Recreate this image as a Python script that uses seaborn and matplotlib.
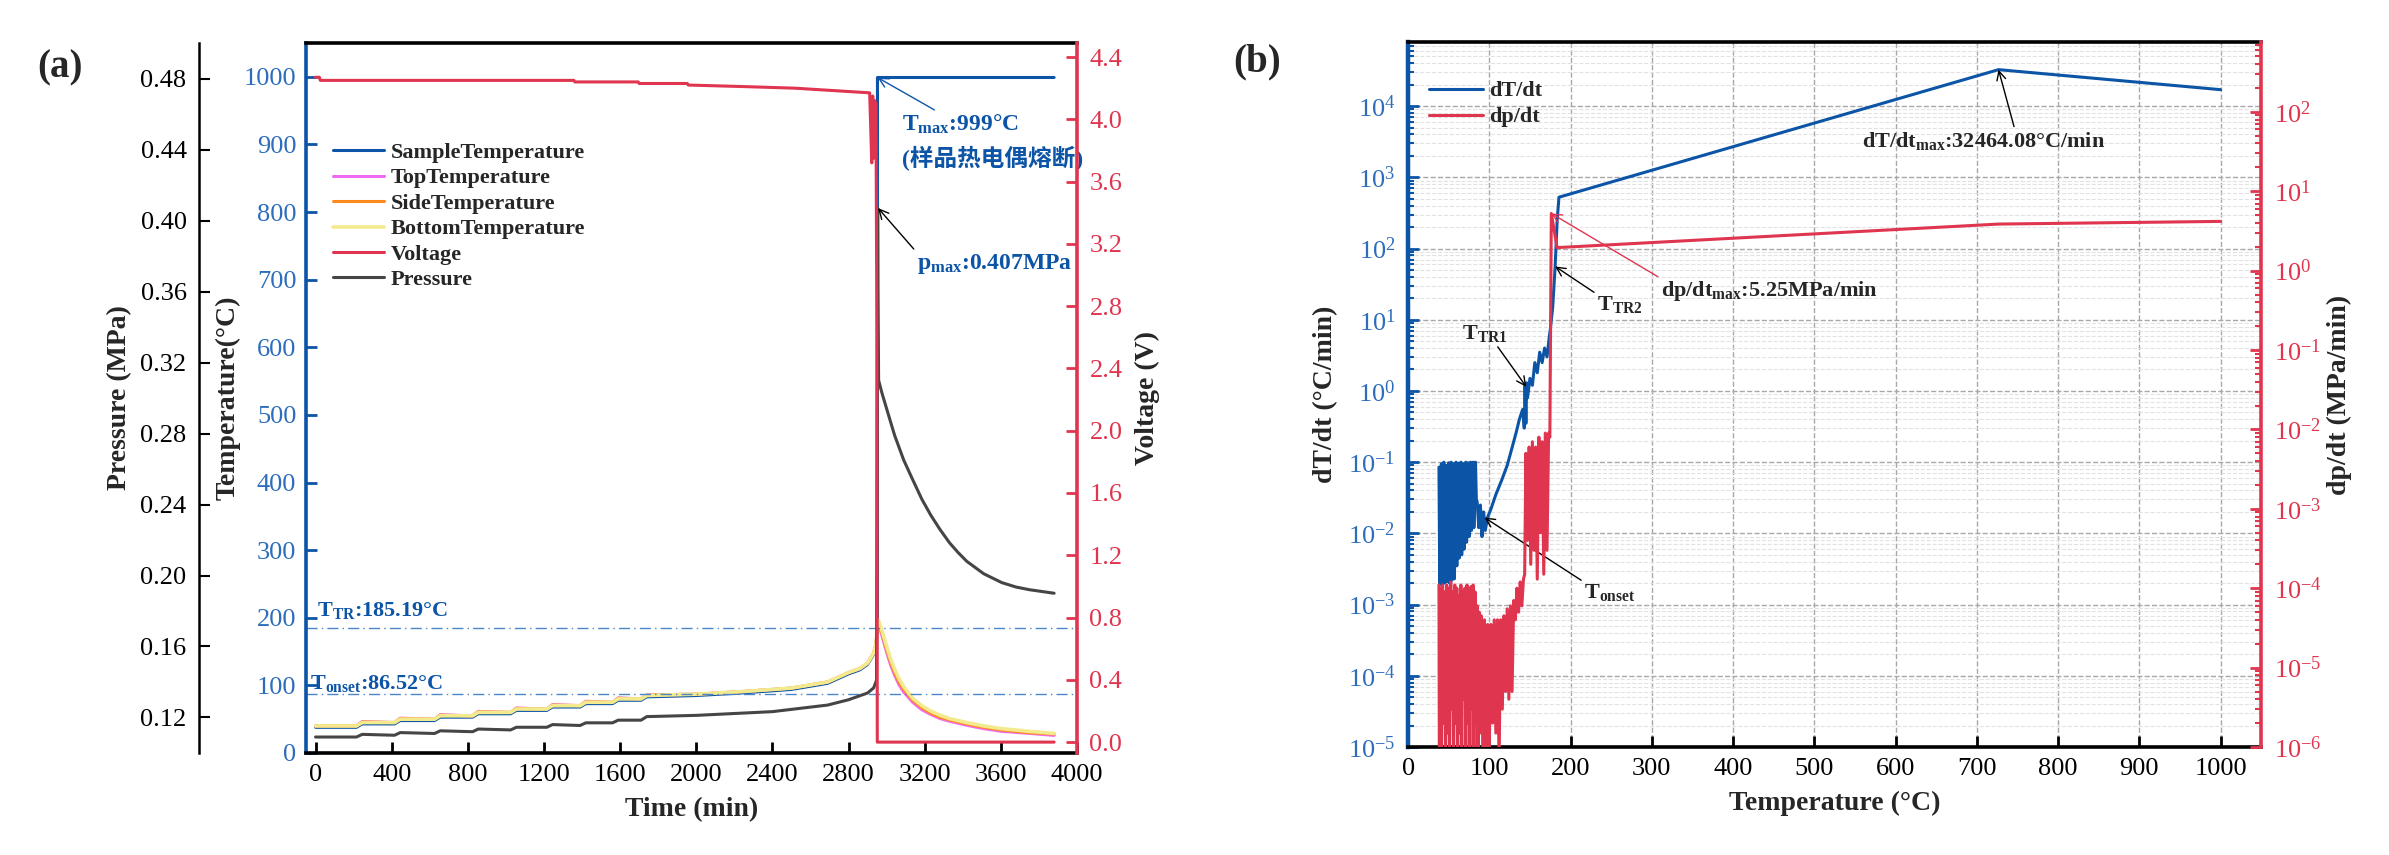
import matplotlib
matplotlib.use("Agg")
import matplotlib.pyplot as plt
from matplotlib.ticker import FormatStrFormatter, LogLocator, NullFormatter
import seaborn as sns

# ============================
# Panel (a): time series
# ============================
# heat-wait-seek part (min), shared by the thermocouples
time_pre = [0, 215, 245, 415, 445, 625, 655, 825, 855, 1025, 1055, 1215, 1245,
            1390, 1420, 1560, 1590, 1710, 1740, 2000, 2250, 2500, 2690, 2800,
            2860, 2900, 2932, 2945]
sample_pre = [38, 38, 43, 43, 48, 48, 53, 53, 58, 58, 63, 63, 68,
              68, 73, 73, 78, 78, 83, 85, 89, 94, 103, 117,
              123, 131, 146, 160]
top_pre = [40, 40, 46.5, 45, 51.5, 50, 56.5, 55, 61.5, 60, 66.5, 65, 71.5,
           70, 76.5, 75, 81.5, 80, 86, 87, 91, 96, 105, 119,
           125, 133, 148, 162]
side_pre = [40, 40, 46, 45, 51, 50, 56, 55, 61, 60, 66, 65, 71,
            70, 76, 75, 81, 80, 85.5, 87, 91, 96, 105, 119,
            125, 133, 148, 162]
bottom_pre = [40, 40, 45, 45, 50, 50, 55, 55, 60, 60, 65, 65, 70,
              70, 75, 75, 80, 80, 85, 87, 91, 96, 105, 119,
              125, 133, 148, 162]

# after thermal runaway
time_post = [2952, 2960, 2968, 2985, 3000, 3020, 3042, 3065, 3090, 3137,
             3185, 3232, 3280, 3330, 3421, 3510, 3605, 3750, 3880]
top_post = [192, 188, 181, 164, 149, 131, 115, 101, 90, 75,
            64, 57, 51, 47, 41, 36, 32, 29, 26]
side_post = [195, 191, 184, 168, 153, 135, 119, 105, 94, 78,
             67, 59, 53, 49, 43, 38, 34, 30, 28]
bottom_post = [198, 194, 188, 172, 158, 140, 124, 110, 98, 81,
               70, 62, 56, 51, 45, 40, 36, 32, 29]
sample_jump_time = [2952, 2952, 3880]
sample_jump = [185, 999, 999]

p_time = [0, 215, 245, 415, 445, 625, 655, 825, 855, 1025, 1055, 1215, 1245, 1390,
          1420, 1560, 1590, 1710, 1740, 2000, 2400, 2690, 2800, 2900, 2932, 2947,
          2953, 2955, 2958, 2975, 3000, 3042, 3090, 3137, 3185, 3232, 3280, 3330,
          3375, 3421, 3510, 3605, 3680, 3750, 3815, 3880]
pressure = [0.109, 0.109, 0.1105, 0.110, 0.1115, 0.111, 0.1125, 0.112, 0.1135, 0.113,
            0.1145, 0.1145, 0.116, 0.1155, 0.117, 0.117, 0.1185, 0.1185, 0.1205,
            0.1212, 0.1233, 0.127, 0.130, 0.1338, 0.1367, 0.141,
            0.407, 0.36, 0.31, 0.303, 0.294, 0.279, 0.265, 0.254, 0.243, 0.234,
            0.226, 0.2185, 0.213, 0.208, 0.201, 0.196, 0.1935, 0.192, 0.191, 0.190]

v_time = [0, 20, 25, 1357, 1362, 1695, 1700, 1953, 1958, 2253, 2516, 2911, 2922,
          2927, 2932, 2937, 2944, 2949, 2951, 3880]
voltage = [4.27, 4.27, 4.25, 4.25, 4.24, 4.24, 4.23, 4.23, 4.22, 4.21, 4.20, 4.17,
           3.72, 4.15, 3.75, 4.12, 4.10, 2.6, 0.0, 0.0]

T_TR = 185.19
T_ONSET = 86.52

time_ticks = [0, 400, 800, 1200, 1600, 2000, 2400, 2800, 3200, 3600, 4000]
temp_ticks = [0, 100, 200, 300, 400, 500, 600, 700, 800, 900, 1000]
press_ticks = [0.12, 0.16, 0.20, 0.24, 0.28, 0.32, 0.36, 0.40, 0.44, 0.48]
volt_ticks = [0.0, 0.4, 0.8, 1.2, 1.6, 2.0, 2.4, 2.8, 3.2, 3.6, 4.0, 4.4]

# ============================
# Panel (b): rates vs temperature
# ============================
dTdt_temp = [38, 39, 41, 42, 44, 45, 47, 48, 50, 51, 53, 54, 56, 57, 59, 60,
             62, 63, 65, 66, 68, 69, 71, 72, 74, 75, 77, 78, 80, 81, 83, 84,
             85, 87, 89, 91, 93, 95, 98, 102, 108, 115, 122, 128, 133, 137, 141,
             143, 144, 145, 146, 147, 150, 153, 156, 159, 162, 165, 168, 171, 174,
             175, 178, 181, 183.5, 185.7, 726.7, 1000]
dTdt = [0.085, 0.0019, 0.095, 0.0019, 0.1, 0.002, 0.09, 0.0021, 0.098, 0.002,
        0.1, 0.0022, 0.095, 0.0023, 0.1, 0.0035, 0.097, 0.0045, 0.1, 0.005,
        0.095, 0.006, 0.1, 0.0075, 0.098, 0.009, 0.1, 0.011, 0.1, 0.012, 0.1, 0.03,
        0.028, 0.012, 0.025, 0.009, 0.02, 0.011, 0.017, 0.022, 0.035, 0.055, 0.09,
        0.16, 0.26, 0.4, 0.55, 0.3, 1.2, 0.35, 1.3, 0.8, 1.5, 1.2, 2.5, 1.8, 3.5,
        2.5, 4.0, 3.0, 6.0, 7.2, 15, 56, 250, 525, 32464.08, 17000]

dpdt_temp = [38, 38.5, 40, 41, 42.5, 43.5, 45, 46, 47.5, 48.5, 50, 51, 52.5, 53.5,
             55, 56, 57.5, 58.5, 60, 61, 62.5, 63.5, 65, 66, 67.5, 68.5, 70, 71,
             72.5, 73.5, 75, 76, 77.5, 78.5, 80, 81, 82.5, 83.5, 85, 86, 87.5, 88.5,
             90, 92, 94, 96, 98, 100, 102, 104, 106, 108, 110, 112, 114, 116, 118,
             120, 122, 124, 126, 128, 130,
             132, 134, 136, 138, 140, 142, 143.5,
             145, 147, 149, 151, 153, 155, 157, 159, 161, 163, 165, 167, 169, 171,
             173, 174.5, 176.3, 183.4, 727, 1000]
dpdt = [1.1e-4, 5e-7, 1.0e-4, 8e-7, 1.1e-4, 2e-6, 9e-5, 5e-7, 1.1e-4, 1.5e-6,
        1.0e-4, 6e-7, 1.2e-4, 3e-6, 9e-5, 5e-7, 1.1e-4, 2e-6, 1.0e-4, 6e-7,
        8e-5, 1.5e-6, 1.1e-4, 5e-7, 9e-5, 4e-6, 1.0e-4, 8e-7, 1.1e-4, 2e-6,
        9e-5, 6e-7, 1.05e-4, 3e-6, 1.1e-4, 7e-7, 9e-5, 2e-6, 6e-5, 5e-7, 5e-5, 1.5e-6,
        4.5e-5, 8e-7, 4e-5, 6e-7, 3.5e-5, 1e-6, 3.5e-5, 2e-6, 4e-5, 1.5e-6, 4e-5,
        6e-7, 4e-5, 3e-6, 4.5e-5, 5e-6, 5.5e-5, 4e-6, 6e-5, 5e-6, 7e-5,
        4e-5, 1e-4, 5e-5, 1.2e-4, 6e-5, 1.3e-4, 1.5e-4,
        5e-3, 4e-4, 6e-3, 2e-4, 7e-3, 3e-4, 6e-3, 1.3e-4, 8e-3, 5e-4, 7e-3,
        1.5e-4, 9e-3, 3e-4, 9e-3, 8e-3, 5.25, 1.95, 3.86, 4.17]

rate_xticks = [0, 100, 200, 300, 400, 500, 600, 700, 800, 900, 1000]

# ============================
# Style
# ============================
BLUE = "#0C54A6"
BLUE_TXT = "#2D6DBB"
DASH_BLUE = "#4A86C8"
RED = "#E0354F"
MAGENTA = "#EE6CF0"
ORANGE = "#FF8A1C"
YELLOW = "#F3EA8E"
GREY = "#454545"

sns.set_theme(style="ticks")
plt.rcParams['font.family'] = ['Liberation Serif', 'Noto Sans CJK SC']
plt.rcParams['mathtext.fontset'] = 'custom'
plt.rcParams['mathtext.rm'] = 'Liberation Serif'
plt.rcParams['mathtext.it'] = 'Liberation Serif:italic'
plt.rcParams['mathtext.bf'] = 'Liberation Serif:bold'

TICK_FS = 19
LABEL_FS = 20
NOTE_FS = 17


def draw(ax, x, y, color, lw=2.2):
    sns.lineplot(x=x, y=y, ax=ax, color=color, linewidth=lw, sort=False,
                 estimator=None, legend=False)
    return ax.lines[-1]


fig = plt.figure(figsize=(23.89, 8.55), dpi=100)

# ---------- (a) ----------
ax_T = fig.add_axes([0.1281, 0.1193, 0.3227, 0.8304])
ax_P = ax_T.twinx()
ax_V = ax_T.twinx()

h_sample = draw(ax_T, time_pre + sample_jump_time, sample_pre + sample_jump, BLUE)
h_top = draw(ax_T, time_pre + time_post, top_pre + top_post, MAGENTA)
h_side = draw(ax_T, time_pre + time_post, side_pre + side_post, ORANGE)
h_bottom = draw(ax_T, time_pre + time_post, bottom_pre + bottom_post, YELLOW, lw=2.6)
h_press = draw(ax_P, p_time, pressure, GREY)
h_volt = draw(ax_V, v_time, voltage, RED)

for val in (T_TR, T_ONSET):
    ax_T.axhline(val, color=DASH_BLUE, lw=1, dashes=(8, 3, 1, 3))

ax_T.set_xlim(-50, 4000)
ax_T.set_ylim(0, 1050)
ax_T.set_xticks(time_ticks)
ax_T.set_yticks(temp_ticks)
ax_P.set_ylim(0.10, 0.50)
ax_P.set_yticks(press_ticks)
ax_P.yaxis.set_major_formatter(FormatStrFormatter('%.2f'))
ax_V.set_ylim(-0.07, 4.49)
ax_V.set_yticks(volt_ticks)
ax_V.yaxis.set_major_formatter(FormatStrFormatter('%.1f'))

ax_P.spines['left'].set_visible(True)
ax_P.spines['left'].set_position(('axes', -0.1388))
ax_P.yaxis.set_ticks_position('left')
ax_P.yaxis.set_label_position('left')
for s in ('right', 'top', 'bottom'):
    ax_P.spines[s].set_visible(False)
for s in ('left', 'top', 'bottom'):
    ax_V.spines[s].set_visible(False)
ax_T.spines['right'].set_visible(False)

ax_T.spines['left'].set_color(BLUE)
ax_T.spines['left'].set_linewidth(2.6)
ax_T.spines['bottom'].set_color('black')
ax_T.spines['bottom'].set_linewidth(2.6)
ax_T.spines['top'].set_color('black')
ax_T.spines['top'].set_linewidth(2.6)
ax_P.spines['left'].set_color('black')
ax_P.spines['left'].set_linewidth(1.8)
ax_V.spines['right'].set_color(RED)
ax_V.spines['right'].set_linewidth(2.6)

ax_T.tick_params(axis='x', direction='in', length=8, width=2, labelsize=TICK_FS,
                 pad=8, color='black', labelcolor='black')
ax_T.tick_params(axis='y', direction='in', length=8, width=2, labelsize=TICK_FS,
                 pad=7, color=BLUE, labelcolor=BLUE_TXT)
ax_P.tick_params(axis='y', direction='in', length=8, width=1.5, labelsize=TICK_FS,
                 pad=9, color='black', labelcolor='black')
ax_V.tick_params(axis='y', direction='in', length=8, width=2, labelsize=TICK_FS,
                 pad=9, color=RED, labelcolor=RED)

ax_T.set_xlabel('Time (min)', fontsize=LABEL_FS, fontweight='bold', labelpad=8)
ax_T.set_ylabel('Temperature(°C)', fontsize=LABEL_FS, fontweight='bold', labelpad=2)
ax_P.set_ylabel('Pressure (MPa)', fontsize=LABEL_FS, fontweight='bold', labelpad=6)
ax_V.set_ylabel('Voltage (V)', fontsize=LABEL_FS, fontweight='bold', labelpad=9)

ax_T.text(5, 211, r'T$_{\mathbf{TR}}$:185.19°C', color=BLUE, fontsize=16,
          fontweight='bold', ha='left', va='center')
ax_T.text(-30, 103, r'T$_{\mathbf{onset}}$:86.52°C', color=BLUE, fontsize=16,
          fontweight='bold', ha='left', va='center')

ax_T.annotate(r'T$_{\mathbf{max}}$:999°C', xy=(2952, 999), xytext=(3079, 929),
              ha='left', va='center', color=BLUE, fontsize=NOTE_FS, fontweight='bold',
              arrowprops=dict(arrowstyle='->', color=BLUE, lw=1, relpos=(0.33, 1.0),
                              shrinkA=0, shrinkB=0))
ax_T.text(3079, 880, '(样品热电偶熔断)', ha='left', va='center', color=BLUE,
          fontsize=NOTE_FS, fontweight='bold')
ax_P.annotate(r'p$_{\mathbf{max}}$:0.407MPa', xy=(2955, 0.407), xytext=(3158, 0.3753),
              ha='left', va='center', color=BLUE, fontsize=NOTE_FS, fontweight='bold',
              arrowprops=dict(arrowstyle='->', color='black', lw=1, relpos=(0.0, 1.0),
                              shrinkA=0, shrinkB=0))

ax_V.legend([h_sample, h_top, h_side, h_bottom, h_volt, h_press],
            ['SampleTemperature', 'TopTemperature', 'SideTemperature',
             'BottomTemperature', 'Voltage', 'Pressure'],
            loc='upper left', bbox_to_anchor=(0.035, 0.86), frameon=False,
            prop=dict(weight='bold', size=16), handlelength=2.3, handletextpad=0.3,
            labelspacing=0.22, borderaxespad=0, borderpad=0)

# ---------- (b) ----------
ax_b = fig.add_axes([0.5894, 0.1263, 0.3571, 0.8246])
ax_b.set_yscale('log')
ax_r = ax_b.twinx()
ax_r.set_yscale('log')

h_dT = draw(ax_b, dTdt_temp, dTdt, BLUE, lw=2.2)
h_dp = draw(ax_r, dpdt_temp, dpdt, RED, lw=2.2)

ax_b.set_xlim(0, 1050)
ax_b.set_ylim(1e-5, 10 ** 4.9)
ax_r.set_ylim(1e-6, 10 ** 2.88)
ax_b.set_xticks(rate_xticks)
for a in (ax_b, ax_r):
    a.yaxis.set_major_locator(LogLocator(base=10, numticks=20))
    a.yaxis.set_minor_locator(LogLocator(base=10, subs=range(2, 10), numticks=20))
    a.yaxis.set_minor_formatter(NullFormatter())

ax_b.set_axisbelow(True)
ax_b.grid(which='major', ls='--', color='#A8A8A8', lw=1)
ax_b.grid(which='minor', axis='y', ls='--', color='#E2E2E2', lw=0.8)

ax_b.spines['right'].set_visible(False)
for s in ('left', 'top', 'bottom'):
    ax_r.spines[s].set_visible(False)
ax_b.spines['left'].set_color(BLUE)
ax_b.spines['left'].set_linewidth(3.2)
for s in ('top', 'bottom'):
    ax_b.spines[s].set_color('black')
    ax_b.spines[s].set_linewidth(2.6)
ax_r.spines['right'].set_color(RED)
ax_r.spines['right'].set_linewidth(2.6)

ax_b.tick_params(axis='x', direction='in', length=8, width=2, labelsize=TICK_FS,
                 pad=8, color='black', labelcolor='black')
ax_b.tick_params(axis='y', which='major', direction='in', length=8, width=2,
                 labelsize=TICK_FS, pad=9, color=BLUE, labelcolor=BLUE_TXT)
ax_b.tick_params(axis='y', which='minor', direction='in', length=4.5, width=1.5,
                 color=BLUE)
ax_r.tick_params(axis='y', which='major', direction='in', length=8, width=2,
                 labelsize=TICK_FS, pad=9, color=RED, labelcolor=RED)
ax_r.tick_params(axis='y', which='minor', direction='in', length=4.5, width=1.5,
                 color=RED)

ax_b.set_xlabel('Temperature (°C)', fontsize=LABEL_FS, fontweight='bold', labelpad=8)
ax_b.set_ylabel('dT/dt (°C/min)', fontsize=LABEL_FS, fontweight='bold', labelpad=7)
ax_r.set_ylabel('dp/dt (MPa/min)', fontsize=LABEL_FS, fontweight='bold', labelpad=4)

arrow_k = dict(arrowstyle='->', color='black', lw=1, shrinkA=0, shrinkB=0)
ax_b.annotate(r'T$_{\mathbf{TR1}}$', xy=(145.6, 1.14), xytext=(94, 6.5),
              ha='center', va='center', fontsize=16, fontweight='bold',
              arrowprops=dict(arrow_k, relpos=(0.74, 0.0)))
ax_b.annotate(r'T$_{\mathbf{TR2}}$', xy=(181, 56), xytext=(261, 16.1),
              ha='center', va='center', fontsize=16, fontweight='bold',
              arrowprops=dict(arrow_k, relpos=(0.0, 1.0)))
ax_b.annotate(r'T$_{\mathbf{onset}}$', xy=(94, 0.0167), xytext=(248.8, 1.46e-3),
              ha='center', va='center', fontsize=16, fontweight='bold',
              arrowprops=dict(arrow_k, relpos=(0.0, 1.0)))
ax_b.annotate(r'dT/dt$_{\mathbf{max}}$:32464.08°C/min', xy=(726.7, 32464.08),
              xytext=(708, 3243), ha='center', va='center', fontsize=16,
              fontweight='bold', arrowprops=dict(arrow_k, relpos=(0.63, 1.0)))
ax_r.annotate(r'dp/dt$_{\mathbf{max}}$:5.25MPa/min', xy=(176.3, 5.25),
              xytext=(445, 0.56), ha='center', va='center', fontsize=16,
              fontweight='bold',
              arrowprops=dict(arrowstyle='->', color=RED, lw=1, relpos=(0.0, 1.0),
                              shrinkA=0, shrinkB=0))

ax_r.legend([h_dT, h_dp], ['dT/dt', 'dp/dt'], loc='upper left',
            bbox_to_anchor=(0.025, 0.945), frameon=False,
            prop=dict(weight='bold', size=16), handlelength=2.4, handletextpad=0.3,
            labelspacing=0.25, borderaxespad=0, borderpad=0)

fig.text(60 / 2389, 1 - 68 / 855, '(a)', fontsize=28, fontweight='bold',
         ha='center', va='center')
fig.text(1257 / 2389, 1 - 62 / 855, '(b)', fontsize=28, fontweight='bold',
         ha='center', va='center')

fig.savefig('out.png', dpi=100)
